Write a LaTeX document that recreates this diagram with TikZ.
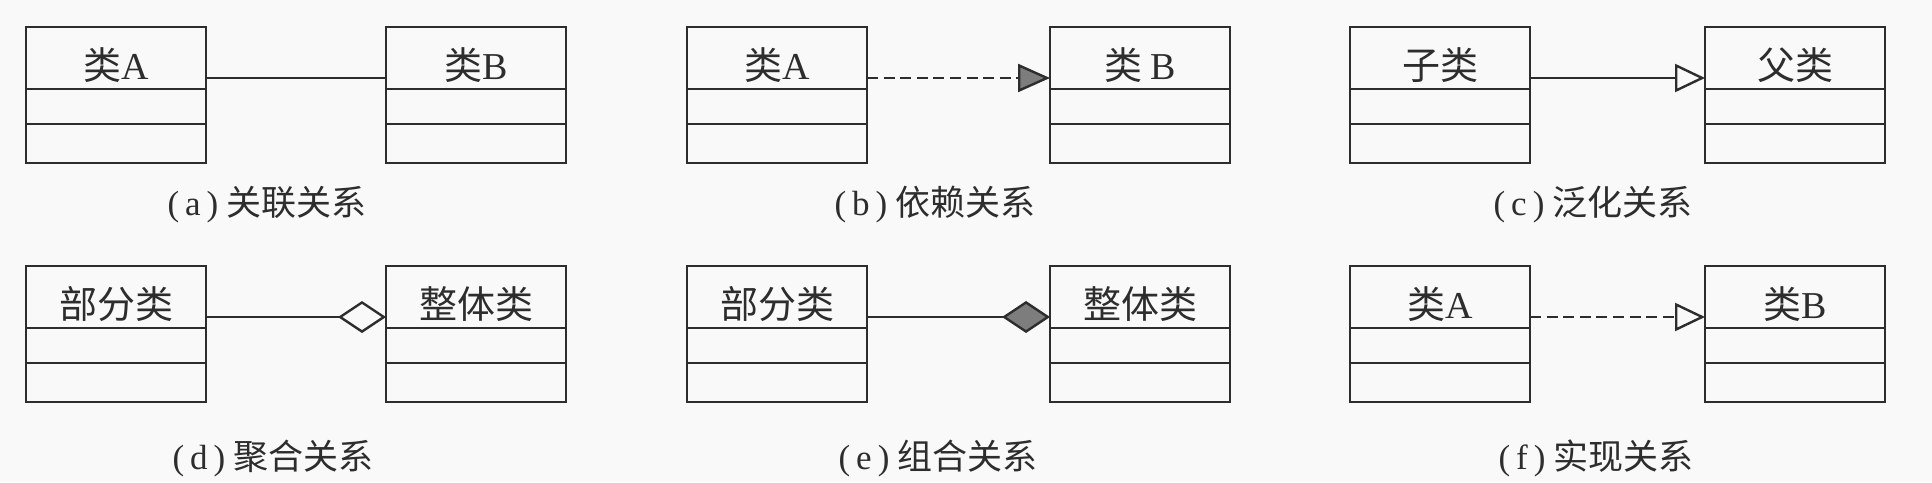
\documentclass[tikz,border=0pt]{standalone}
\usepackage{fontspec}
\setmainfont{Liberation Serif}
\newfontfamily\cjk{Noto Sans CJK SC}
\usetikzlibrary{arrows.meta}
\definecolor{ink}{RGB}{45,45,45}
\definecolor{bgc}{RGB}{249,249,249}
\definecolor{tipfill}{RGB}{125,125,125}
\tikzset{
  classbox/.style={draw=ink, line width=1.2pt, minimum width=90pt, minimum height=68pt, inner sep=0pt, outer sep=0pt},
  divline/.style={draw=ink, line width=1.2pt},
  lbl/.style={text=ink, font=\fontsize{19pt}{22pt}\selectfont, inner sep=0pt},
  caption/.style={text=ink, font=\fontsize{17.5pt}{20pt}\selectfont, inner sep=0pt},
  conn/.style={draw=ink, line width=1.2pt},
  dashedconn/.style={conn, dash pattern=on 5.5pt off 2.8pt},
  filledtri/.style={-{Triangle[length=16pt,width=14pt,fill=tipfill]}},
  opentri/.style={-{Triangle[open,length=15pt,width=14pt,fill=bgc]}},
  opendiam/.style={-{Diamond[open,length=24pt,width=16pt,fill=bgc]}},
  filleddiam/.style={-{Diamond[length=24pt,width=16pt,fill=tipfill]}}
}
\newcommand\umlbox[4]{%
  \node[classbox, anchor=north west] (#1) at (#2,#3) {};
  \draw[divline] ([yshift=-31pt]#1.north west) -- ([yshift=-31pt]#1.north east);
  \draw[divline] ([yshift=-48.5pt]#1.north west) -- ([yshift=-48.5pt]#1.north east);
  \node[lbl] (#1lbl) at ([yshift=-19pt]#1.north) {#4};
}
\newcommand\umllink[3]{%
  \draw[#3] ([yshift=-25.5pt]#1.north east) -- ([yshift=-25.5pt]#2.north west);
}
\newcommand\capparen[1]{(\kern3pt #1\kern3pt)\kern4pt}
\begin{document}
\begin{tikzpicture}[x=0.5pt,y=-0.5pt]
\fill[bgc] (0,0) rectangle (1932,482);
\useasboundingbox (0,0) rectangle (1932,482);

% row 1
\umlbox{aL}{26}{27}{{\cjk 类}A}
\umlbox{aR}{386}{27}{{\cjk 类}B}
\umllink{aL}{aR}{conn}
\node[caption] (capa) at (267,205) {\capparen{a}{\cjk 关联关系}};

\umlbox{bL}{687}{27}{{\cjk 类}A}
\umlbox{bR}{1050}{27}{{\cjk 类}\kern4pt B}
\umllink{bL}{bR}{dashedconn,filledtri}
\node[caption] (capb) at (935,205) {\capparen{b}{\cjk 依赖关系}};

\umlbox{cL}{1350}{27}{{\cjk 子类}}
\umlbox{cR}{1705}{27}{{\cjk 父类}}
\umllink{cL}{cR}{conn,opentri}
\node[caption] (capc) at (1593,205) {\capparen{c}{\cjk 泛化关系}};

% row 2
\umlbox{dL}{26}{266}{{\cjk 部分类}}
\umlbox{dR}{386}{266}{{\cjk 整体类}}
\umllink{dL}{dR}{conn,opendiam}
\node[caption] (capd) at (273,458) {\capparen{d}{\cjk 聚合关系}};

\umlbox{eL}{687}{266}{{\cjk 部分类}}
\umlbox{eR}{1050}{266}{{\cjk 整体类}}
\umllink{eL}{eR}{conn,filleddiam}
\node[caption] (cape) at (938,458) {\capparen{e}{\cjk 组合关系}};

\umlbox{fL}{1350}{266}{{\cjk 类}A}
\umlbox{fR}{1705}{266}{{\cjk 类}B}
\umllink{fL}{fR}{dashedconn,opentri}
\node[caption] (capf) at (1596,458) {\capparen{f}{\cjk 实现关系}};
\end{tikzpicture}
\end{document}
